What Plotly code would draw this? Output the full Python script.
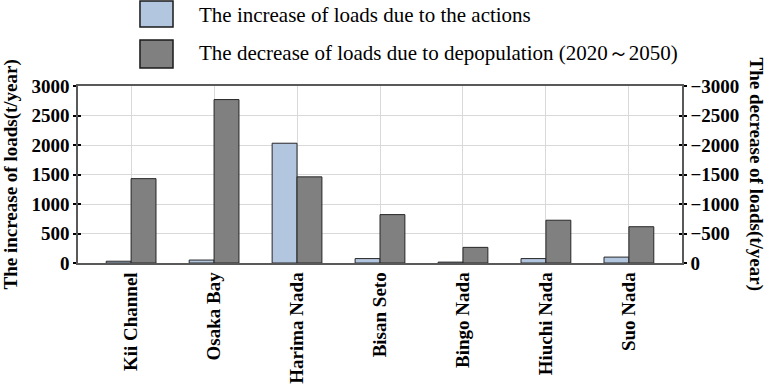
import plotly.graph_objects as go

categories = ["Kii Channel", "Osaka Bay", "Harima Nada", "Bisan Seto", "Bingo Nada", "Hiuchi Nada", "Suo Nada"]
increase = [30, 50, 2030, 75, 15, 75, 100]
decrease = [1430, 2770, 1460, 820, 265, 725, 615]
left_ticks = [0, 500, 1000, 1500, 2000, 2500, 3000]
right_ticks = [0, -500, -1000, -1500, -2000, -2500, -3000]
legend_names = ["The increase of loads due to the actions",
                "The decrease of loads due to depopulation (2020～2050)"]

INC_COLOR = "#B3C6E0"
DEC_COLOR = "#808080"
EDGE = "#262626"
AXIS = "#595959"
GRID = "#D9D9D9"
FONT = "Liberation Serif, Times New Roman, serif"

fig = go.Figure()
fig.add_trace(go.Bar(x=categories, y=increase, name=legend_names[0],
                     marker=dict(color=INC_COLOR, line=dict(color=EDGE, width=1)),
                     showlegend=False))
fig.add_trace(go.Bar(x=categories, y=decrease, name=legend_names[1],
                     marker=dict(color=DEC_COLOR, line=dict(color=EDGE, width=1)),
                     showlegend=False))
# invisible helpers so the secondary axes get drawn
for ax in ["y2", "y3", "y4"]:
    fig.add_trace(go.Scatter(x=[categories[0]], y=[0], yaxis=ax, mode="markers",
                             marker=dict(opacity=0), showlegend=False, hoverinfo="skip"))

tickfont = dict(family=FONT, size=19, color="black", weight="bold")
xtickfont = dict(family=FONT, size=19, color="black", weight="bold")

fig.update_layout(
    width=770, height=386,
    margin=dict(l=78, r=88, t=86, b=123, autoexpand=False),
    paper_bgcolor="white", plot_bgcolor="white",
    barmode="group", bargap=0.4, bargroupgap=0,
    showlegend=False,
    xaxis=dict(type="category", range=[-0.64, 6.64], showgrid=True, gridcolor=GRID,
               gridwidth=1, showline=True, linecolor=AXIS, linewidth=1.5, mirror=True,
               ticks="", tickangle=-90, tickfont=xtickfont, automargin=False),
    yaxis=dict(range=[0, 3000], tickvals=left_ticks, showgrid=True, gridcolor=GRID,
               showline=True, linecolor=AXIS, linewidth=1.5, ticks="outside",
               ticklen=3, tickcolor="black", tickwidth=1.5, tickfont=tickfont,
               zeroline=False, automargin=False),
    yaxis2=dict(range=[0, -3000], tickvals=right_ticks, overlaying="y", side="right",
                showgrid=False, showline=True, linecolor=AXIS, linewidth=1.5,
                ticks="outside", ticklen=3, tickcolor="black", tickwidth=1.5,
                tickfont=tickfont, zeroline=False, automargin=False),
    yaxis3=dict(range=[0, 3000], tickvals=left_ticks, overlaying="y", side="left",
                showgrid=False, showline=False, ticks="inside", ticklen=3,
                tickcolor="black", tickwidth=1.5, showticklabels=False, zeroline=False,
                automargin=False),
    yaxis4=dict(range=[0, -3000], tickvals=right_ticks, overlaying="y", side="right",
                showgrid=False, showline=False, ticks="inside", ticklen=3,
                tickcolor="black", tickwidth=1.5, showticklabels=False, zeroline=False,
                automargin=False),
)

# axis titles
titlefont = dict(family=FONT, size=19, color="black", weight="bold")
fig.add_annotation(text="The increase of loads(t/year)", xref="paper", yref="paper",
                   x=-0.111, y=0.5, textangle=-90, showarrow=False, font=titlefont,
                   xanchor="center", yanchor="middle")
fig.add_annotation(text="The decrease of loads(t/year)", xref="paper", yref="paper",
                   x=1.124, y=0.5, textangle=90, showarrow=False, font=titlefont,
                   xanchor="center", yanchor="middle")

# manual legend with large swatches
legfont = dict(family=FONT, size=21, color="black")
swatches = [(INC_COLOR, 1.480, 1.333, 1.401), (DEC_COLOR, 1.260, 1.102, 1.186)]
for (col, y1, y0, ty), name in zip(swatches, legend_names):
    fig.add_shape(type="rect", xref="paper", yref="paper", x0=0.1026, x1=0.1573,
                  y0=y0, y1=y1, fillcolor=col, line=dict(color="#1a1a1a", width=1.5))
    fig.add_annotation(text=name, xref="paper", yref="paper", x=0.197, y=ty,
                       xanchor="left", yanchor="middle", showarrow=False, font=legfont)

fig.write_html("out.html")
